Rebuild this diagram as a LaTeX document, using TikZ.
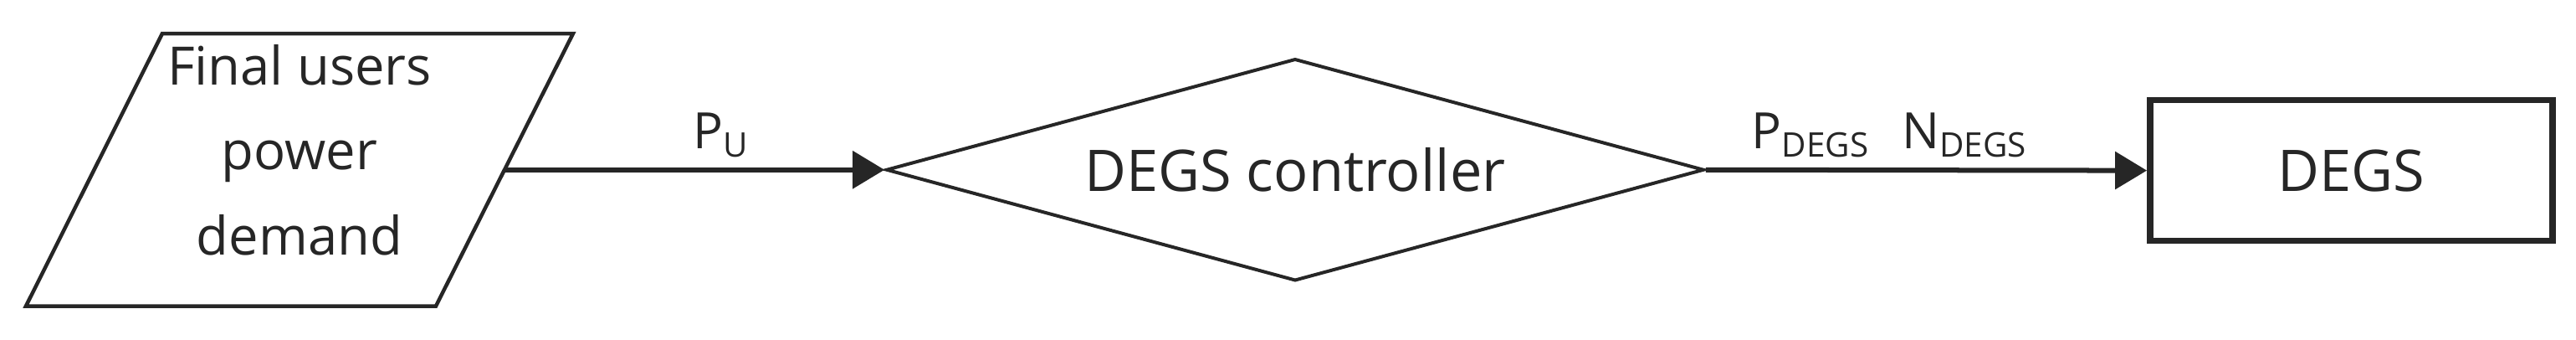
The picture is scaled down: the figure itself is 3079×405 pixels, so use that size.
\documentclass[tikz,border=0pt]{standalone}
\usepackage{fontspec}
\setmainfont{Open Sans}
\usetikzlibrary{arrows.meta,shapes.geometric}
\newcommand\mysub[1]{\raisebox{-0.1cm}{\fontsize{11.5pt}{11.5pt}\selectfont #1}}
\definecolor{ink}{RGB}{38,38,38}
\tikzset{
  mainfont/.style={font=\fontsize{19.5pt}{28.9pt}\selectfont},
  iofont/.style={font=\fontsize{18pt}{28.9pt}\selectfont},
  lblfont/.style={font=\fontsize{17pt}{20pt}\selectfont},
  flowarrow/.style={draw=ink, line width=0.06cm, -{Triangle[length=0.38cm,width=0.44cm]}},
  decisionbox/.style={diamond, draw=ink, line width=0.04cm, minimum width=9.77cm, minimum height=2.65cm, aspect=3.69, inner sep=0pt, mainfont, text=ink},
  blockbox/.style={rectangle, draw=ink, line width=0.075cm, minimum width=4.81cm, minimum height=1.68cm, inner sep=0pt, mainfont, text=ink},
  iobox/.style={draw=ink, line width=0.045cm, line join=miter},
}
\begin{document}
\begin{tikzpicture}[x=0.01cm, y=-0.01cm]
\useasboundingbox (0,0) rectangle (3079,405);
% input/output parallelogram
\draw[iobox] (194,40) -- (685,40) -- (521,365.5) -- (31,365.5) -- cycle;
\node[iofont, text=ink, align=center, anchor=base, inner sep=0pt] (users) at (358,304.6) {Final users\\power\\demand};
\coordinate (usersR) at (603,202.75);
% controller
\node[decisionbox] (ctl) at (1548,202.75) {DEGS controller};
% DEGS block
\node[blockbox] (degs) at (2810.5,203.6) {DEGS};
% connectors
\draw[flowarrow] (usersR) -- (ctl.west);
\draw[flowarrow] (ctl.east) -- (degs.west);
% labels
\node[lblfont, text=ink, anchor=base west, inner sep=0pt] (pu) at (828,177.8) {P\mysub{U}};
\node[lblfont, text=ink, anchor=base west, inner sep=0pt] (pdegs) at (2093,177.8) {P\mysub{DEGS}\hspace{0.4cm}N\mysub{DEGS}};
\end{tikzpicture}
\end{document}
